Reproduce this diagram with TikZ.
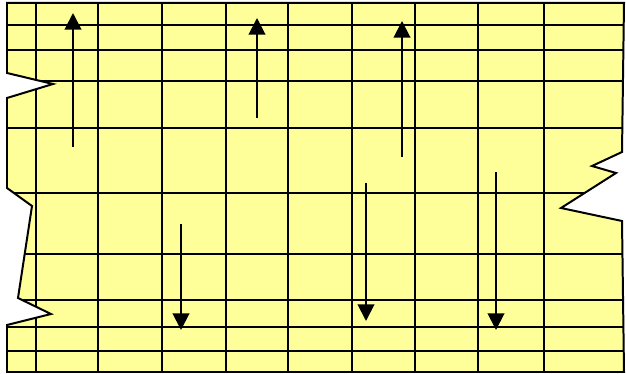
\documentclass[tikz,border=0pt]{standalone}
\usepackage{tikz}
\usetikzlibrary{arrows.meta}

\definecolor{sheet}{HTML}{FFFF99}

\begin{document}
\begin{tikzpicture}[
    x=0.03cm, y=-0.03cm,
    edge/.style={line width=1.7pt, line join=miter},
    grid line/.style={line width=1.7pt},
    flow/.style={line width=1.7pt, -{Triangle[length=0.5cm, width=0.5cm]}},
]
\useasboundingbox (0,0) rectangle (626,374);

% torn sheet
\def\sheetpath{(7,3) -- (624,3) -- (622,152) -- (592,166) -- (616,173)
    -- (561,208) -- (622,221) -- (624,372) -- (7,372) -- (7,325)
    -- (51,314) -- (18,298) -- (32,206) -- (7,188) -- (7,98)
    -- (53,84) -- (7,73) -- cycle}
\fill[sheet] \sheetpath;
\begin{scope}
    \clip \sheetpath;
    \foreach \x in {36,98,162,226,288,352,415,478,544}
        \draw[grid line] (\x,0) -- (\x,374);
    \foreach \y in {25,50,81,128,193,254,300,327,351}
        \draw[grid line] (0,\y) -- (626,\y);
\end{scope}
\draw[edge] \sheetpath;

% arrows
\coordinate (up1 s) at (73,147);  \coordinate (up1 e) at (73,13);
\coordinate (up2 s) at (257,118); \coordinate (up2 e) at (257,18);
\coordinate (up3 s) at (402,157); \coordinate (up3 e) at (402,21);
\coordinate (dn1 s) at (181,224); \coordinate (dn1 e) at (181,330);
\coordinate (dn2 s) at (366,183); \coordinate (dn2 e) at (366,321);
\coordinate (dn3 s) at (496,172); \coordinate (dn3 e) at (496,330);

\draw[flow] (up1 s) -- (up1 e);
\draw[flow] (up2 s) -- (up2 e);
\draw[flow] (up3 s) -- (up3 e);
\draw[flow] (dn1 s) -- (dn1 e);
\draw[flow] (dn2 s) -- (dn2 e);
\draw[flow] (dn3 s) -- (dn3 e);
\end{tikzpicture}
\end{document}
